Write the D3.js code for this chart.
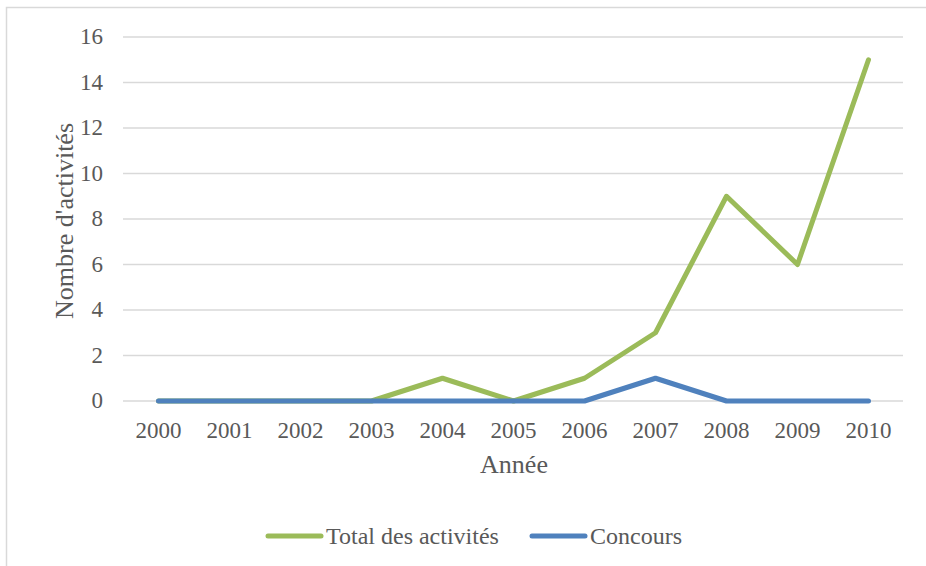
<!DOCTYPE html>
<html>
<head>
    <style>
        body { margin: 0; background: #fff; }
        text { font-family: "Liberation Serif", "Times New Roman", serif; fill: #595959; }
        .tick text { font-size: 23px; }
        .grid line { stroke: #d9d9d9; stroke-width: 1.3; }
    </style>
    <script type="text/javascript" src="https://d3js.org/d3.v7.min.js"></script>
</head>
<body>
<svg width="926" height="566"></svg>
<script>
    const years = ["2000", "2001", "2002", "2003", "2004", "2005", "2006", "2007", "2008", "2009", "2010"];
    const total = [0, 0, 0, 0, 1, 0, 1, 3, 9, 6, 15];
    const concours = [0, 0, 0, 0, 0, 0, 0, 1, 0, 0, 0];
    const yTicks = [0, 2, 4, 6, 8, 10, 12, 14, 16];

    let svg = d3.select("svg");

    // chart border
    svg.append("rect")
        .attr("x", 6.5).attr("y", 7.5)
        .attr("width", 940).attr("height", 580)
        .attr("fill", "none").attr("stroke", "#d9d9d9").attr("stroke-width", 1.5);

    let x = d3.scaleBand().domain(years).range([123, 904]);
    let y = d3.scaleLinear().domain([0, 16]).range([401, 37]);

    // gridlines
    svg.append("g").attr("class", "grid")
        .selectAll("line").data(yTicks).enter().append("line")
        .attr("x1", 123).attr("x2", 903)
        .attr("y1", d => y(d)).attr("y2", d => y(d));

    // y axis labels
    let yAxis = svg.append("g").attr("transform", "translate(123,0)")
        .call(d3.axisLeft(y).tickValues(yTicks).tickSize(0).tickPadding(20));
    yAxis.select(".domain").remove();
    yAxis.selectAll("text").attr("dy", "0.3em");

    // x axis labels
    let xAxis = svg.append("g").attr("transform", "translate(0,401)")
        .call(d3.axisBottom(x).tickSize(0));
    xAxis.select(".domain").remove();
    xAxis.selectAll("text").attr("y", 37).attr("dy", null);

    let line = d3.line()
        .x((d, i) => x(years[i]) + x.bandwidth() / 2)
        .y(d => y(d));

    svg.append("path").datum(total)
        .attr("d", line).attr("fill", "none")
        .attr("stroke", "#9bbb59").attr("stroke-width", 5)
        .attr("stroke-linecap", "round").attr("stroke-linejoin", "round");

    svg.append("path").datum(concours)
        .attr("d", line).attr("fill", "none")
        .attr("stroke", "#4f81bd").attr("stroke-width", 5)
        .attr("stroke-linecap", "round").attr("stroke-linejoin", "round");

    // axis titles
    svg.append("text")
        .attr("transform", "translate(73,221) rotate(-90)")
        .attr("text-anchor", "middle")
        .style("font-size", "26px")
        .text("Nombre d'activités");

    svg.append("text")
        .attr("x", 514).attr("y", 473)
        .attr("text-anchor", "middle")
        .style("font-size", "26px")
        .text("Année");

    // legend
    let legend = [
        {name: "Total des activités", color: "#9bbb59", x: 268},
        {name: "Concours", color: "#4f81bd", x: 532}
    ];
    let lg = svg.append("g").selectAll("g").data(legend).enter().append("g");
    lg.append("line")
        .attr("x1", d => d.x).attr("x2", d => d.x + 53)
        .attr("y1", 536).attr("y2", 536)
        .attr("stroke", d => d.color).attr("stroke-width", 5)
        .attr("stroke-linecap", "round");
    lg.append("text")
        .attr("x", d => d.x + 58).attr("y", 544)
        .style("font-size", "24px")
        .text(d => d.name);
</script>
</body>
</html>
